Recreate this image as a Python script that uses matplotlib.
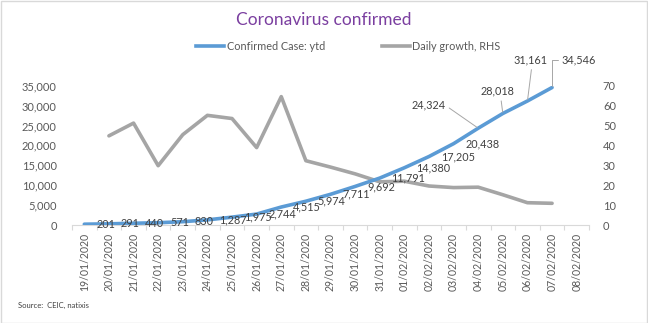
import matplotlib
matplotlib.use("Agg")
import matplotlib.pyplot as plt
from matplotlib.lines import Line2D
from matplotlib.patches import Rectangle

dates = ["19/01/2020", "20/01/2020", "21/01/2020", "22/01/2020", "23/01/2020",
         "24/01/2020", "25/01/2020", "26/01/2020", "27/01/2020", "28/01/2020",
         "29/01/2020", "30/01/2020", "31/01/2020", "01/02/2020", "02/02/2020",
         "03/02/2020", "04/02/2020", "05/02/2020", "06/02/2020", "07/02/2020",
         "08/02/2020"]
confirmed = [201, 291, 440, 571, 830, 1287, 1975, 2744, 4515, 5974, 7711,
             9692, 11791, 14380, 17205, 20438, 24324, 28018, 31161, 34546]
growth_dates = dates[1:20]
daily_growth = [44.8, 51.2, 29.8, 45.4, 55.1, 53.5, 38.9, 64.5, 32.3, 29.1,
                25.7, 21.7, 22.0, 19.6, 18.8, 19.0, 15.2, 11.2, 10.9]

left_ticks = [0, 5000, 10000, 15000, 20000, 25000, 30000, 35000]
right_ticks = [0, 10, 20, 30, 40, 50, 60, 70]

BLUE = "#5B9BD5"
GREY = "#A5A5A5"
TXT = "#595959"
FONT = "Lato"
plt.rcParams["font.family"] = [FONT, "DejaVu Sans"]

W, H = 648, 323
fig = plt.figure(figsize=(W / 100, H / 100), dpi=100)
fig.patch.set_facecolor("white")

ax = fig.add_axes([72 / W, 1 - 225 / H, (589 - 72) / W, (225 - 85.7) / H])
ax2 = ax.twinx()

xi = list(range(len(dates)))
ax.plot(xi[:len(confirmed)], confirmed, color=BLUE, lw=2.6, zorder=3,
        solid_capstyle="round")
gx = [dates.index(d) for d in growth_dates]
ax2.plot(gx, daily_growth, color=GREY, lw=2.6, zorder=2,
         solid_capstyle="round")
ax.set_zorder(ax2.get_zorder() + 1)
ax.patch.set_visible(False)

ax.set_xlim(-0.5, len(dates) - 0.5)
ax.set_ylim(0, 35000)
ax2.set_ylim(0, 70)
ax.set_yticks(left_ticks)
ax.set_yticklabels([f"{v:,}" for v in left_ticks])
ax2.set_yticks(right_ticks)
ax2.set_yticklabels([str(v) for v in right_ticks])

ax.set_xticks(xi)
ax.set_xticklabels(dates, rotation=90, fontsize=7.6, color=TXT)
ax.set_xticks([i - 0.5 for i in range(len(dates) + 1)], minor=True)
ax.tick_params(axis="x", which="major", length=0, pad=6)
ax.tick_params(axis="x", which="minor", length=3.5, color="#D9D9D9", width=0.8)
ax.tick_params(axis="y", length=0, pad=11, labelsize=8, labelcolor=TXT)
ax2.tick_params(axis="y", length=0, pad=10, labelsize=8, labelcolor=TXT)

for a in (ax, ax2):
    for s in ("top", "left", "right", "bottom"):
        a.spines[s].set_visible(False)
ax.spines["bottom"].set_visible(True)
ax.spines["bottom"].set_color("#D9D9D9")
ax.spines["bottom"].set_linewidth(0.8)

# data labels: right of the point, with leader lines for the last few
lab_kw = dict(fontsize=7.8, color="#404040", zorder=5)
leader = dict(arrowstyle="-", color="#A6A6A6", lw=0.7, shrinkA=1, shrinkB=1)
special = {
    16: dict(xytext=(-36, 16.5), ha="center", va="center",
             arrowprops=dict(leader, relpos=(1, 0.5))),
    17: dict(xytext=(-4, 16), ha="center", va="center",
             arrowprops=dict(leader, relpos=(0.6, 0))),
    18: dict(xytext=(2, 29.5), ha="center", va="center",
             arrowprops=dict(leader, relpos=(0.55, 0))),
    19: dict(xytext=(19.5, 20), ha="center", va="center",
             arrowprops=dict(leader, relpos=(0, 0.5),
                             connectionstyle="angle,angleA=0,angleB=90,rad=0")),
}
for i, v in enumerate(confirmed):
    if i in special:
        ax.annotate(f"{v:,}", (i, v), textcoords="offset points", **special[i],
                    **lab_kw)
    else:
        ax.annotate(f"{v:,}", (i, v), xytext=(8.5, 0), textcoords="offset points",
                    ha="left", va="center", **lab_kw)

fig.text(324 / W, 1 - 20 / H, "Coronavirus confirmed", ha="center", va="center",
         fontsize=12.5, color="#7B3FA0")

# legend
ly = 1 - 46 / H
fig.add_artist(Line2D([196 / W, 224 / W], [ly, ly], color=BLUE, lw=2.6,
                      transform=fig.transFigure))
fig.text(227 / W, ly, "Confirmed Case: ytd", ha="left", va="center",
         fontsize=7.8, color=TXT)
fig.add_artist(Line2D([382 / W, 410 / W], [ly, ly], color=GREY, lw=2.6,
                      transform=fig.transFigure))
fig.text(412 / W, ly, "Daily growth, RHS", ha="left", va="center",
         fontsize=7.8, color=TXT)

fig.text(18 / W, 1 - 305 / H, "Source:  CEIC, natixis", ha="left", va="center",
         fontsize=5.5, color="#404040")

fig.add_artist(Rectangle((0.5 / W, 0.5 / H), 1 - 1.5 / W, 1 - 1.5 / H,
                         transform=fig.transFigure, fill=False,
                         edgecolor="#D9D9D9", lw=1))

fig.savefig("out.png", dpi=100)
